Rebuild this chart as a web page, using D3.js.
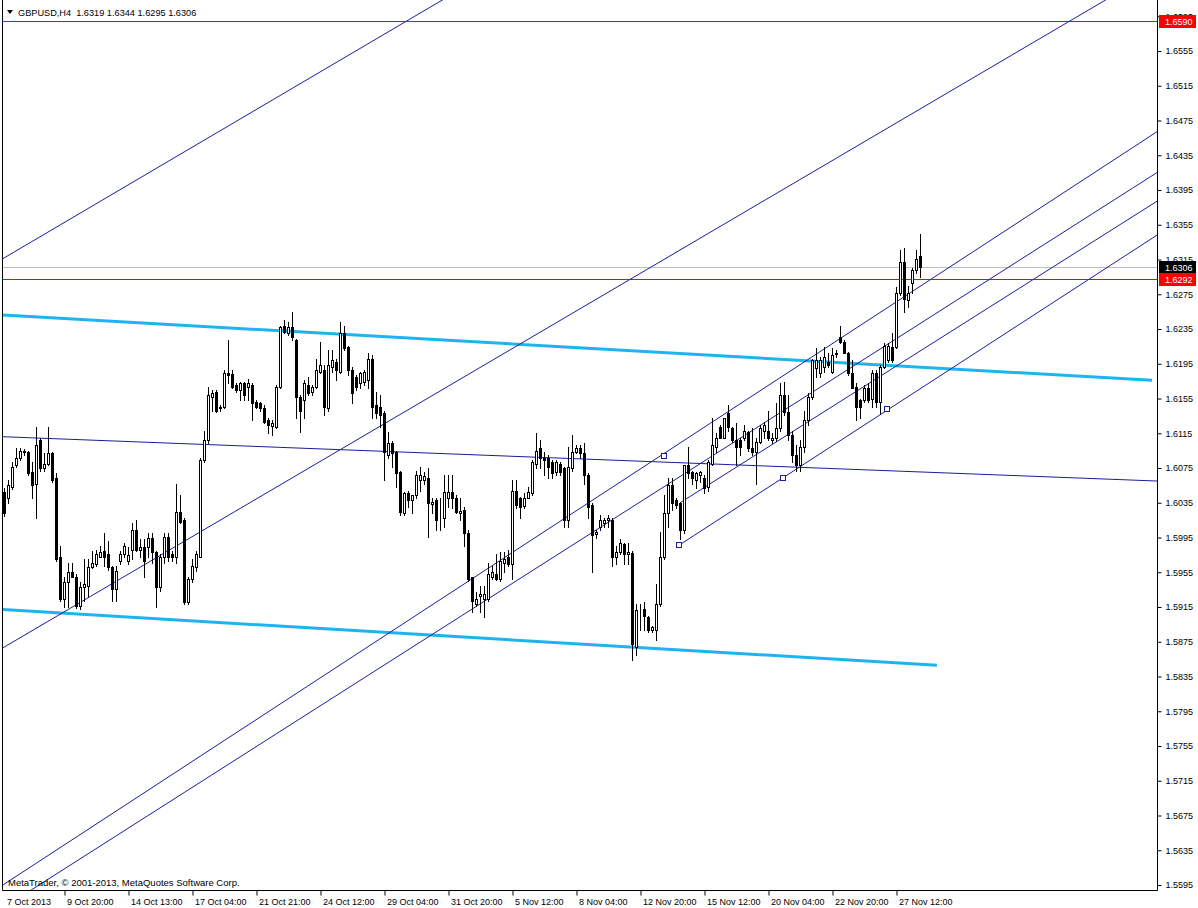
<!DOCTYPE html>
<html>
<head>
<meta charset="utf-8">
<script src="https://cdn.jsdelivr.net/npm/d3@7"></script>
<style>
body { margin: 0; background: #fff; }
svg text { font-family: "Liberation Sans", Arial, sans-serif; font-size: 9px; fill: #000; }
</style>
</head>
<body>
<svg id="chart" width="1198" height="908"></svg>
<script>
// GBPUSD H4 bars, [open, high, low, close]
var bars = [
 [1.6047,1.6052,1.6020,1.6023],[1.6040,1.6061,1.6035,1.6055],[1.6053,1.6082,1.6051,1.6076],[1.6078,1.6098,1.6076,1.6087],[1.6086,1.6098,1.6084,1.6095],
 [1.6093,1.6097,1.6090,1.6094],[1.6093,1.6095,1.6067,1.6069],[1.6070,1.6082,1.6040,1.6055],[1.6057,1.6122,1.6017,1.6101],[1.6107,1.6110,1.6072,1.6075],
 [1.6075,1.6092,1.6072,1.6080],[1.6080,1.6122,1.6078,1.6092],[1.6092,1.6093,1.6059,1.6061],[1.6063,1.6069,1.5968,1.5970],[1.5973,1.5985,1.5922,1.5924],
 [1.5924,1.5950,1.5915,1.5944],[1.5944,1.5966,1.5915,1.5955],[1.5955,1.5966,1.5949,1.5950],[1.5950,1.5953,1.5914,1.5916],[1.5916,1.5944,1.5913,1.5938],
 [1.5938,1.5970,1.5922,1.5941],[1.5939,1.5970,1.5928,1.5961],[1.5961,1.5979,1.5960,1.5966],[1.5964,1.5981,1.5962,1.5976],[1.5973,1.5985,1.5972,1.5978],
 [1.5979,1.6000,1.5962,1.5973],[1.5976,1.5991,1.5958,1.5961],[1.5961,1.5962,1.5922,1.5936],[1.5936,1.5962,1.5922,1.5956],[1.5968,1.5979,1.5964,1.5976],
 [1.5976,1.5989,1.5973,1.5985],[1.5968,1.5984,1.5964,1.5975],[1.5981,1.6012,1.5970,1.6004],[1.6004,1.6015,1.5979,1.5981],[1.5981,1.5993,1.5973,1.5984],
 [1.5984,1.5993,1.5950,1.5968],[1.5984,1.6000,1.5973,1.5995],[1.5995,1.6000,1.5966,1.5978],[1.5978,1.5979,1.5915,1.5938],[1.5938,1.5976,1.5933,1.5972],
 [1.5973,1.6000,1.5966,1.5996],[1.5996,1.6000,1.5968,1.5972],[1.5976,1.5979,1.5968,1.5972],[1.5972,1.6057,1.5966,1.6024],[1.6024,1.6044,1.6012,1.6013],
 [1.6015,1.6017,1.5918,1.5921],[1.5921,1.5950,1.5918,1.5947],[1.5947,1.5970,1.5944,1.5962],[1.5961,1.5979,1.5956,1.5976],[1.5973,1.6086,1.5972,1.6084],
 [1.6084,1.6118,1.6082,1.6107],[1.6107,1.6168,1.6104,1.6159],[1.6157,1.6165,1.6141,1.6161],[1.6162,1.6165,1.6139,1.6141],[1.6145,1.6147,1.6141,1.6144],
 [1.6145,1.6188,1.6144,1.6184],[1.6184,1.6222,1.6173,1.6182],[1.6183,1.6188,1.6167,1.6168],[1.6170,1.6173,1.6162,1.6165],[1.6165,1.6174,1.6153,1.6173],
 [1.6173,1.6174,1.6153,1.6159],[1.6168,1.6178,1.6153,1.6173],[1.6170,1.6173,1.6130,1.6150],[1.6151,1.6153,1.6144,1.6145],[1.6150,1.6151,1.6141,1.6144],
 [1.6144,1.6147,1.6127,1.6128],[1.6130,1.6132,1.6115,1.6124],[1.6123,1.6130,1.6113,1.6127],[1.6122,1.6170,1.6121,1.6168],[1.6168,1.6239,1.6167,1.6237],
 [1.6239,1.6245,1.6230,1.6231],[1.6230,1.6243,1.6228,1.6237],[1.6237,1.6254,1.6222,1.6226],[1.6222,1.6224,1.6133,1.6157],[1.6157,1.6159,1.6116,1.6141],
 [1.6153,1.6176,1.6133,1.6173],[1.6170,1.6180,1.6159,1.6161],[1.6162,1.6170,1.6159,1.6168],[1.6168,1.6201,1.6167,1.6188],[1.6185,1.6220,1.6184,1.6193],
 [1.6188,1.6193,1.6136,1.6145],[1.6144,1.6211,1.6141,1.6193],[1.6191,1.6211,1.6185,1.6199],[1.6197,1.6201,1.6176,1.6188],[1.6185,1.6243,1.6184,1.6230],
 [1.6230,1.6239,1.6211,1.6213],[1.6214,1.6216,1.6182,1.6188],[1.6188,1.6191,1.6150,1.6161],[1.6180,1.6182,1.6165,1.6168],[1.6173,1.6185,1.6167,1.6184],
 [1.6174,1.6188,1.6170,1.6185],[1.6176,1.6207,1.6167,1.6201],[1.6201,1.6205,1.6133,1.6145],[1.6147,1.6162,1.6132,1.6138],[1.6145,1.6159,1.6122,1.6136],
 [1.6138,1.6141,1.6061,1.6093],[1.6090,1.6116,1.6087,1.6104],[1.6104,1.6106,1.6076,1.6092],[1.6093,1.6095,1.6053,1.6069],[1.6070,1.6072,1.6021,1.6024],
 [1.6023,1.6047,1.6021,1.6046],[1.6046,1.6049,1.6030,1.6038],[1.6038,1.6044,1.6023,1.6044],[1.6044,1.6072,1.6041,1.6067],[1.6061,1.6076,1.6049,1.6067],
 [1.6061,1.6070,1.6057,1.6066],[1.6063,1.6075,1.5996,1.6035],[1.6034,1.6040,1.6023,1.6036],[1.6038,1.6040,1.6004,1.6015],[1.6017,1.6041,1.6004,1.6018],
 [1.6018,1.6067,1.6007,1.6047],[1.6040,1.6067,1.6030,1.6047],[1.6047,1.6067,1.6029,1.6040],[1.6040,1.6044,1.6023,1.6024],[1.6023,1.6040,1.6015,1.6026],
 [1.6027,1.6030,1.5985,1.6000],[1.6000,1.6004,1.5945,1.5947],[1.5949,1.5950,1.5909,1.5922],[1.5918,1.5932,1.5916,1.5924],[1.5928,1.5939,1.5909,1.5930],
 [1.5924,1.5939,1.5904,1.5930],[1.5924,1.5966,1.5922,1.5953],[1.5950,1.5962,1.5947,1.5955],[1.5953,1.5976,1.5946,1.5947],[1.5947,1.5978,1.5945,1.5968],
 [1.5966,1.5978,1.5955,1.5970],[1.5972,1.5981,1.5962,1.5964],[1.5964,1.6061,1.5947,1.6049],[1.6049,1.6061,1.6029,1.6032],[1.6041,1.6042,1.6018,1.6030],
 [1.6031,1.6046,1.6029,1.6041],[1.6041,1.6053,1.6040,1.6047],[1.6046,1.6084,1.6044,1.6082],[1.6080,1.6115,1.6075,1.6095],[1.6098,1.6107,1.6075,1.6086],
 [1.6087,1.6093,1.6067,1.6084],[1.6086,1.6090,1.6064,1.6076],[1.6082,1.6084,1.6064,1.6069],[1.6070,1.6084,1.6067,1.6082],[1.6080,1.6082,1.6067,1.6070],
 [1.6075,1.6076,1.6007,1.6015],[1.6015,1.6099,1.6007,1.6076],[1.6075,1.6113,1.6072,1.6093],[1.6093,1.6101,1.6092,1.6098],[1.6098,1.6101,1.6087,1.6092],
 [1.6092,1.6104,1.6057,1.6067],[1.6067,1.6069,1.6018,1.6030],[1.6032,1.6035,1.5955,1.5998],[1.5999,1.6004,1.5995,1.6001],[1.6007,1.6021,1.6004,1.6015],
 [1.6012,1.6017,1.6007,1.6015],[1.6015,1.6021,1.6007,1.6018],[1.6015,1.6017,1.5962,1.5973],[1.5973,1.5985,1.5964,1.5978],[1.5978,1.5993,1.5976,1.5989],
 [1.5987,1.5989,1.5964,1.5976],[1.5976,1.5989,1.5964,1.5978],[1.5977,1.5979,1.5854,1.5872],[1.5869,1.5918,1.5860,1.5911],[1.5911,1.5918,1.5889,1.5912],
 [1.5913,1.5921,1.5889,1.5905],[1.5904,1.5905,1.5886,1.5889],[1.5889,1.5893,1.5886,1.5892],[1.5889,1.5941,1.5877,1.5918],[1.5918,1.6001,1.5916,1.5972],
 [1.5972,1.6044,1.5970,1.6023],[1.6023,1.6064,1.6007,1.6055],[1.6055,1.6064,1.6027,1.6035],[1.6038,1.6041,1.6029,1.6032],[1.6035,1.6036,1.5993,1.6004],
 [1.6004,1.6078,1.6000,1.6078],[1.6078,1.6099,1.6063,1.6069],[1.6070,1.6072,1.6057,1.6063],[1.6061,1.6070,1.6052,1.6069],[1.6067,1.6072,1.6059,1.6070],
 [1.6064,1.6067,1.6046,1.6052],[1.6053,1.6084,1.6049,1.6082],[1.6080,1.6132,1.6078,1.6101],[1.6099,1.6115,1.6093,1.6110],[1.6122,1.6124,1.6109,1.6110],
 [1.6110,1.6133,1.6109,1.6132],[1.6138,1.6147,1.6118,1.6122],[1.6121,1.6122,1.6105,1.6107],[1.6107,1.6127,1.6078,1.6099],[1.6107,1.6110,1.6090,1.6099],
 [1.6109,1.6124,1.6107,1.6118],[1.6116,1.6118,1.6095,1.6098],[1.6098,1.6121,1.6090,1.6093],[1.6093,1.6110,1.6057,1.6105],[1.6105,1.6124,1.6104,1.6121],
 [1.6118,1.6128,1.6110,1.6124],[1.6118,1.6141,1.6107,1.6109],[1.6107,1.6115,1.6104,1.6110],[1.6109,1.6150,1.6106,1.6121],[1.6121,1.6173,1.6118,1.6159],
 [1.6159,1.6174,1.6136,1.6139],[1.6139,1.6159,1.6107,1.6113],[1.6113,1.6118,1.6082,1.6090],[1.6090,1.6101,1.6072,1.6078],[1.6078,1.6107,1.6072,1.6099],
 [1.6099,1.6141,1.6093,1.6130],[1.6130,1.6161,1.6124,1.6157],[1.6157,1.6201,1.6155,1.6199],[1.6190,1.6213,1.6180,1.6199],[1.6184,1.6203,1.6180,1.6199],
 [1.6191,1.6214,1.6185,1.6203],[1.6197,1.6207,1.6191,1.6193],[1.6185,1.6213,1.6184,1.6205],[1.6207,1.6211,1.6203,1.6206],[1.6226,1.6239,1.6219,1.6220],
 [1.6220,1.6222,1.6207,1.6207],[1.6207,1.6208,1.6182,1.6184],[1.6184,1.6199,1.6167,1.6167],[1.6168,1.6173,1.6130,1.6145],[1.6153,1.6155,1.6133,1.6145],
 [1.6153,1.6170,1.6151,1.6167],[1.6167,1.6173,1.6151,1.6153],[1.6155,1.6188,1.6145,1.6184],[1.6184,1.6188,1.6145,1.6151],[1.6151,1.6193,1.6138,1.6191],
 [1.6191,1.6219,1.6190,1.6216],[1.6199,1.6219,1.6197,1.6216],[1.6214,1.6230,1.6197,1.6199],[1.6214,1.6283,1.6213,1.6277],[1.6277,1.6326,1.6274,1.6312],
 [1.6312,1.6328,1.6254,1.6270],[1.6268,1.6285,1.6260,1.6276],[1.6288,1.6305,1.6276,1.6303],[1.6303,1.6326,1.6300,1.6316],[1.6319,1.6344,1.6295,1.6306]
];

var timeLabels = ["7 Oct 2013", "9 Oct 20:00", "14 Oct 13:00", "17 Oct 04:00", "21 Oct 21:00", "24 Oct 12:00",
    "29 Oct 04:00", "31 Oct 20:00", "5 Nov 12:00", "8 Nov 04:00", "12 Nov 20:00", "15 Nov 12:00",
    "20 Nov 04:00", "22 Nov 20:00", "27 Nov 12:00"];
var timeLabelBars = [0, 15, 31, 47, 63, 79, 95, 111, 127, 143, 159, 175, 191, 207, 223];

var priceTicks = [1.5595, 1.5635, 1.5675, 1.5715, 1.5755, 1.5795, 1.5835, 1.5875, 1.5915, 1.5955, 1.5995,
    1.6035, 1.6075, 1.6115, 1.6155, 1.6195, 1.6235, 1.6275, 1.6315, 1.6355, 1.6395, 1.6435, 1.6475,
    1.6515, 1.6555, 1.6595];

// trend lines as [bar1, price1, bar2, price2], extended both ways
var trendLines = [
    [-0.4, 1.6316, 108.1, 1.6610],
    [-0.4, 1.5868, 273.9, 1.6610],
    [-0.4, 1.5595, 288.1, 1.6462],
    [6.6, 1.5589, 288.1, 1.6415],
    [-0.4, 1.6111, 288.1, 1.6060]
];
// rays starting at their first point
var channelRays = [
    [168.9, 1.6035, 288.1, 1.6382],
    [168.6, 1.5986, 288.1, 1.6343]
];
var cyanLines = [
    [-0.4, 1.6251, 286.9, 1.6176],
    [-0.4, 1.5912, 233.1, 1.5848]
];
var anchorBars = [164.9, 168.6, 194.6, 220.6];
var anchorPrices = [1.6089, 1.5986, 1.6063, 1.6143];

var redLevels = [1.6590, 1.6292];
var bidPrice = 1.6306;
var header = "GBPUSD,H4  1.6319 1.6344 1.6295 1.6306";

var plotLeft = 3, plotRight = 1157, plotTop = 0, plotBottom = 890;

var x = d3.scaleLinear().domain([0, 288]).range([4.5, 1156.5]);
var y = d3.scaleLinear().domain([1.5595, 1.6555]).range([885, 51]);

var svg = d3.select("#chart");

svg.append("defs").append("clipPath")
    .attr("id", "plotclip")
    .append("rect")
    .attr("x", plotLeft).attr("y", plotTop)
    .attr("width", plotRight - plotLeft).attr("height", plotBottom - plotTop);

var plot = svg.append("g").attr("clip-path", "url(#plotclip)");

// full-width price levels
plot.append("line")
    .attr("x1", plotLeft).attr("x2", plotRight)
    .attr("y1", Math.round(y(bidPrice)) + 0.5).attr("y2", Math.round(y(bidPrice)) + 0.5)
    .style("stroke", "#c0c0c0");

plot.selectAll(".level")
    .data(redLevels)
    .enter().append("line")
    .attr("class", "level")
    .attr("x1", plotLeft).attr("x2", plotRight)
    .attr("y1", function(d) { return Math.round(y(d)) + 0.5; })
    .attr("y2", function(d) { return Math.round(y(d)) + 0.5; })
    .style("stroke", "#ff0000")
    .style("stroke-width", 1);

// extend a line through two points to the plot edges
function extended(d, fromStart) {
    var x1 = x(d[0]), y1 = y(d[1]), x2 = x(d[2]), y2 = y(d[3]);
    var k = (y2 - y1) / (x2 - x1);
    var xa = fromStart ? x1 : plotLeft - 5, xb = plotRight + 5;
    return [xa, y1 + k * (xa - x1), xb, y1 + k * (xb - x1)];
}

plot.selectAll(".cyan")
    .data(cyanLines)
    .enter().append("line")
    .attr("class", "cyan")
    .attr("x1", function(d) { return x(d[0]); })
    .attr("y1", function(d) { return y(d[1]); })
    .attr("x2", function(d) { return x(d[2]); })
    .attr("y2", function(d) { return y(d[3]); })
    .attr("stroke", "#1eb4f0")
    .attr("stroke-width", 3);

plot.selectAll(".trend")
    .data(trendLines.map(function(d) { return extended(d, false); })
        .concat(channelRays.map(function(d) { return extended(d, true); })))
    .enter().append("line")
    .attr("class", "trend")
    .attr("x1", function(d) { return d[0]; })
    .attr("y1", function(d) { return d[1]; })
    .attr("x2", function(d) { return d[2]; })
    .attr("y2", function(d) { return d[3]; })
    .attr("stroke", "#1c1c9c")
    .attr("stroke-width", 1);

// candles
var candle = plot.selectAll(".bar")
    .data(bars)
    .enter().append("g")
    .attr("class", "bar");

candle.append("line")
    .attr("x1", function(d, i) { return x(i); })
    .attr("x2", function(d, i) { return x(i); })
    .attr("y1", function(d) { return Math.round(y(d[1])); })
    .attr("y2", function(d) { return Math.round(y(d[2])) + 1; })
    .attr("stroke", "#000");

candle.append("rect")
    .attr("x", function(d, i) { return x(i) - 1; })
    .attr("y", function(d) { return Math.round(y(Math.max(d[0], d[3]))) + 0.5; })
    .attr("width", 2)
    .attr("height", function(d) {
        return Math.max(0, Math.round(y(Math.min(d[0], d[3]))) - Math.round(y(Math.max(d[0], d[3]))));
    })
    .attr("fill", function(d) { return d[3] >= d[0] ? "#fff" : "#000"; })
    .attr("stroke", "#000");

// channel anchor squares
plot.selectAll(".anchor")
    .data(anchorBars)
    .enter().append("rect")
    .attr("class", "anchor")
    .attr("x", function(d) { return Math.round(x(d)) - 2.5; })
    .attr("y", function(d, i) { return Math.round(y(anchorPrices[i])) - 2.5; })
    .attr("width", 5).attr("height", 5)
    .attr("fill", "#fff")
    .attr("stroke", "#1c1c9c");

// frame
svg.append("path")
    .attr("d", "M" + (plotLeft - 0.5) + ",0V" + (plotBottom + 0.5) + "H" + (plotRight + 0.5) + "V0")
    .attr("fill", "none")
    .attr("stroke", "#000");

// price axis
var yAxis = d3.axisRight(y)
    .tickValues(priceTicks)
    .tickSize(4)
    .tickPadding(4)
    .tickFormat(d3.format(".4f"));

var ya = svg.append("g")
    .attr("transform", "translate(" + (plotRight + 0.5) + ",0)")
    .call(yAxis);
ya.select(".domain").remove();
ya.selectAll("text").attr("font-size", null).attr("font-family", null);
ya.selectAll(".tick line").attr("stroke", "#000");

// price labels on the axis
var markers = [{ p: redLevels[0], fill: "#ff0000" }, { p: bidPrice, fill: "#000" }, { p: redLevels[1], fill: "#ff0000" }];
var mk = svg.selectAll(".marker")
    .data(markers)
    .enter().append("g")
    .attr("class", "marker")
    .attr("transform", function(d) { return "translate(" + (plotRight + 1) + "," + Math.round(y(d.p)) + ")"; });
mk.append("rect")
    .attr("x", 1).attr("y", -6)
    .attr("width", 37).attr("height", 13)
    .attr("fill", function(d) { return d.fill; });
mk.append("text")
    .attr("x", 7).attr("y", 4)
    .style("fill", "#fff")
    .text(function(d) { return d3.format(".4f")(d.p); });

// time axis
var xAxis = d3.axisBottom(x)
    .tickValues(timeLabelBars)
    .tickSize(5)
    .tickFormat(function(d, i) { return timeLabels[i]; });

var xa = svg.append("g")
    .attr("transform", "translate(0," + (plotBottom + 0.5) + ")")
    .call(xAxis);
xa.select(".domain").remove();
xa.selectAll("text")
    .attr("font-size", null).attr("font-family", null)
    .attr("text-anchor", "start")
    .attr("dx", 2)
    .attr("y", 8)
    .attr("dy", "0.71em");
xa.selectAll(".tick line").attr("stroke", "#000");
xa.select(".tick line").remove();

// header and copyright
svg.append("path")
    .attr("d", "M7,10H13L10,14Z")
    .attr("fill", "#000");
svg.append("text")
    .attr("x", 18).attr("y", 16)
    .attr("xml:space", "preserve")
    .style("font-size", "9.2px")
    .text(header);
svg.append("text")
    .attr("x", 8).attr("y", 886)
    .style("font-size", "9.5px")
    .text("MetaTrader, \u00a9 2001-2013, MetaQuotes Software Corp.");
</script>
</body>
</html>
